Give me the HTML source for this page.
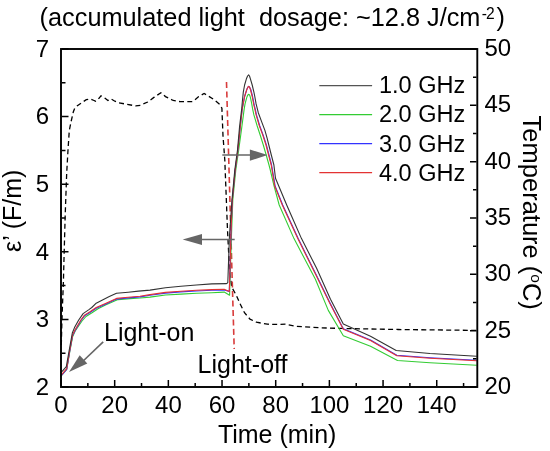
<!DOCTYPE html>
<html><head><meta charset="utf-8"><style>
html,body{margin:0;padding:0;background:#fff;overflow:hidden;}
svg{display:block;will-change:transform;}
</style></head><body>
<svg width="550" height="451" viewBox="0 0 550 451" font-family='"Liberation Sans", sans-serif'><rect width="550" height="451" fill="#fff"/><text x="39.6" y="26.2" font-size="25.3" xml:space="preserve">(accumulated light &#160;dosage: ~12.8 J/cm</text><text x="481.7" y="18.7" font-size="15.6">-</text><text x="486.1" y="18.7" font-size="15.6">2</text><text x="496.5" y="26.2" font-size="25.3">)</text><polyline points="61.3,345.0 61.8,325.0 62.5,305.0 63.4,282.0 64.1,255.0 65.2,215.0 66.7,173.0 68.1,148.3 69.3,130.5 71.1,121.6 73.3,112.0 74.7,108.2 77.0,105.9 81.6,102.8 86.3,99.7 90.1,98.9 94.0,100.5 95.5,101.2 97.9,99.7 101.0,95.8 104.8,98.1 107.9,100.5 111.0,98.9 114.9,101.2 118.7,102.8 124.9,103.9 135.7,105.9 140.4,105.3 147.7,102.0 153.9,97.4 160.9,92.7 165.5,96.6 173.2,100.5 180.2,101.7 191.8,101.7 194.1,100.5 198.7,96.6 204.1,93.5 208.0,95.8 214.2,99.7 219.6,104.3 221.9,108.2 223.0,136.0 224.8,160.0 227.5,230.0 229.5,270.0 231.8,287.3 236.4,295.5 240.0,303.6 244.5,312.7 250.0,319.1 256.4,322.2 267.3,324.2 278.2,324.5 285.5,324.2 296.4,326.4 320.0,327.8 344.2,328.5 398.2,329.5 476.7,330.4" fill="none" stroke="#000" stroke-width="1.3" stroke-dasharray="5,3.3"/><line x1="226.5" y1="82" x2="234.2" y2="349" stroke="#d83c3c" stroke-width="1.6" stroke-dasharray="6,3.5"/><polyline points="60.6,376.6 66.7,369.5 69.9,351.0 72.7,336.5 75.2,331.0 82.0,321.0 86.0,316.5 92.0,312.8 98.0,308.8 106.0,304.8 118.0,299.6 130.0,298.6 140.0,298.0 150.0,297.1 165.5,295.0 180.9,294.1 196.4,293.2 211.8,292.7 224.2,292.1 229.6,295.2 230.5,265.0 231.5,235.0 232.8,200.0 235.8,170.0 238.7,150.0 241.9,126.4 244.2,108.9 245.1,103.6 246.8,97.4 247.8,95.0 248.8,94.3 249.6,95.0 250.4,97.4 251.7,103.6 252.6,108.9 253.9,114.9 257.2,126.0 260.5,136.0 263.3,145.0 266.2,155.0 269.0,165.0 270.3,170.0 273.9,185.4 279.2,205.0 294.0,238.6 315.4,279.3 328.3,310.4 343.3,335.7 370.5,346.3 397.5,360.5 430.0,362.7 476.7,365.3" fill="none" stroke="#33cc33" stroke-width="1.1" stroke-linejoin="round"/><polyline points="60.6,376.5 66.7,369.3 69.8,350.7 72.5,336.0 75.0,330.7 80.9,320.7 84.5,315.8 90.4,312.2 96.2,308.2 104.9,304.4 116.5,299.1 128.2,297.9 140.0,296.9 150.0,295.3 165.5,293.1 180.9,291.9 196.4,291.0 211.8,290.3 224.2,290.0 229.3,291.5 230.2,262.0 231.0,232.0 232.3,200.0 235.2,170.0 237.9,150.0 240.3,126.4 242.2,108.9 242.9,105.4 244.6,96.5 246.8,89.5 247.8,87.2 248.8,86.4 249.6,87.2 250.8,89.5 252.6,96.5 254.3,105.4 255.2,108.9 256.5,114.9 259.8,126.0 263.1,134.9 266.4,145.0 269.0,155.0 271.6,165.0 275.2,186.3 282.7,205.0 298.2,238.6 315.7,273.8 329.8,302.6 343.3,328.8 370.5,340.0 396.8,355.3 430.0,357.8 476.7,360.3" fill="none" stroke="#3333ff" stroke-width="1.1" stroke-linejoin="round"/><polyline points="60.6,375.8 66.7,368.6 69.8,350.0 72.5,335.3 75.0,330.0 80.9,320.0 84.5,315.1 90.4,311.5 96.2,307.5 104.9,303.7 116.5,298.4 128.2,297.2 140.0,296.2 150.0,294.6 165.5,292.4 180.9,291.2 196.4,290.3 211.8,289.6 224.2,289.3 229.3,291.5 230.2,262.0 231.0,232.0 232.3,200.0 235.2,170.0 237.9,150.0 240.3,126.4 242.2,108.9 242.9,105.4 244.6,96.5 246.8,89.5 247.8,87.2 248.8,86.4 249.6,87.2 250.4,89.5 252.2,96.5 253.9,105.4 254.8,108.9 256.1,114.9 259.4,126.0 262.7,134.9 266.0,145.0 268.6,155.0 271.2,165.0 274.8,186.3 282.3,205.0 297.8,238.6 315.3,273.8 329.4,302.6 343.3,329.2 370.5,340.4 396.8,355.7 430.0,358.2 476.7,360.7" fill="none" stroke="#e33333" stroke-width="1.1" stroke-linejoin="round"/><polyline points="60.8,372.8 66.3,366.6 69.6,348.0 72.3,333.0 74.5,327.6 78.7,320.0 83.1,313.6 88.9,309.6 91.8,307.5 96.2,303.2 102.0,300.3 109.3,296.5 116.5,293.3 128.2,292.2 138.4,291.1 150.0,290.1 165.5,287.8 180.9,286.2 196.4,285.0 211.8,283.9 226.5,283.6 227.8,282.8 228.6,260.0 229.5,235.0 230.6,220.0 232.0,200.0 234.8,170.0 237.5,150.0 239.6,126.4 241.7,108.9 242.4,101.0 243.3,92.1 244.6,85.0 246.4,78.8 247.6,76.0 248.6,74.9 249.5,76.0 250.4,78.8 252.2,85.0 253.9,92.1 254.6,95.5 256.1,103.9 258.3,112.7 261.6,121.6 264.9,130.4 267.1,138.2 268.8,145.0 271.3,155.0 273.9,165.0 275.5,178.3 286.7,205.0 292.3,217.7 301.5,238.6 316.6,268.3 330.5,299.3 343.3,323.9 370.5,336.3 396.2,350.5 430.0,353.5 476.7,356.2" fill="none" stroke="#333" stroke-width="1.1" stroke-linejoin="round"/><g fill="#666" stroke="#666"><line x1="103.2" y1="341.9" x2="80" y2="364" stroke-width="1.6"/><polygon points="69,372 79.7,355.2 87.3,363.6" stroke="none"/><line x1="222.3" y1="155" x2="252" y2="155" stroke-width="1.5"/><polygon points="267.6,155 249.9,149.5 249.9,160.7" stroke="none"/><line x1="234.7" y1="239.6" x2="200" y2="239.6" stroke-width="1.5"/><polygon points="182.7,239.5 202,233.9 202,245.1" stroke="none"/></g><rect x="61" y="49" width="416.3" height="338" fill="none" stroke="#000" stroke-width="1.9"/><path d="M61.00,386V380 M87.84,386V383 M114.68,386V380 M141.52,386V383 M168.35,386V380 M195.19,386V383 M222.03,386V380 M248.87,386V383 M275.71,386V380 M302.55,386V383 M329.39,386V380 M356.23,386V383 M383.06,386V380 M409.90,386V383 M436.74,386V380 M463.58,386V383 M62,387.00H68.5 M62,353.20H65.5 M62,319.40H68.5 M62,285.60H65.5 M62,251.80H68.5 M62,218.00H65.5 M62,184.20H68.5 M62,150.40H65.5 M62,116.60H68.5 M62,82.80H65.5 M62,49.00H68.5 M476.5,387.00H470.0 M476.5,358.83H473.0 M476.5,330.67H470.0 M476.5,302.50H473.0 M476.5,274.33H470.0 M476.5,246.17H473.0 M476.5,218.00H470.0 M476.5,189.83H473.0 M476.5,161.67H470.0 M476.5,133.50H473.0 M476.5,105.33H470.0 M476.5,77.17H473.0 M476.5,49.00H470.0" stroke="#000" stroke-width="1.5" fill="none"/><text x="61.0" y="412.6" font-size="24" text-anchor="middle">0</text><text x="114.7" y="412.6" font-size="24" text-anchor="middle">20</text><text x="168.4" y="412.6" font-size="24" text-anchor="middle">40</text><text x="222.0" y="412.6" font-size="24" text-anchor="middle">60</text><text x="275.7" y="412.6" font-size="24" text-anchor="middle">80</text><text x="329.4" y="412.6" font-size="24" text-anchor="middle">100</text><text x="383.1" y="412.6" font-size="24" text-anchor="middle">120</text><text x="436.7" y="412.6" font-size="24" text-anchor="middle">140</text><text x="49.1" y="394.7" font-size="24" text-anchor="end">2</text><text x="49.1" y="327.1" font-size="24" text-anchor="end">3</text><text x="49.1" y="259.5" font-size="24" text-anchor="end">4</text><text x="49.1" y="191.9" font-size="24" text-anchor="end">5</text><text x="49.1" y="124.3" font-size="24" text-anchor="end">6</text><text x="49.1" y="56.7" font-size="24" text-anchor="end">7</text><text x="484.5" y="394.0" font-size="24">20</text><text x="484.5" y="337.7" font-size="24">25</text><text x="484.5" y="281.3" font-size="24">30</text><text x="484.5" y="225.0" font-size="24">35</text><text x="484.5" y="168.7" font-size="24">40</text><text x="484.5" y="112.3" font-size="24">45</text><text x="484.5" y="56.0" font-size="24">50</text><text x="217.9" y="442.7" font-size="25">Time (min)</text><text transform="translate(20.7,252) rotate(-90)" font-size="25" xml:space="preserve">ε’ (F/m)</text><text transform="translate(523.3,115.6) rotate(90)" font-size="25.5">Temperature (<tspan font-size="15.5" dy="-7.3">o</tspan><tspan dy="7.3">C)</tspan></text><line x1="319.3" y1="85.5" x2="372.1" y2="85.5" stroke="#555" stroke-width="1.25"/><text x="379" y="93.3" font-size="23.5">1.0 GHz</text><line x1="319.3" y1="114.5" x2="372.1" y2="114.5" stroke="#33cc33" stroke-width="1.25"/><text x="379" y="122.4" font-size="23.5">2.0 GHz</text><line x1="319.3" y1="143.5" x2="372.1" y2="143.5" stroke="#3333ff" stroke-width="1.25"/><text x="379" y="151.5" font-size="23.5">3.0 GHz</text><line x1="319.3" y1="172.5" x2="372.1" y2="172.5" stroke="#e33333" stroke-width="1.25"/><text x="379" y="180.6" font-size="23.5">4.0 GHz</text><text x="104" y="340.5" font-size="25">Light-on</text><text x="197.6" y="372.6" font-size="25">Light-off</text></svg>
</body></html>
